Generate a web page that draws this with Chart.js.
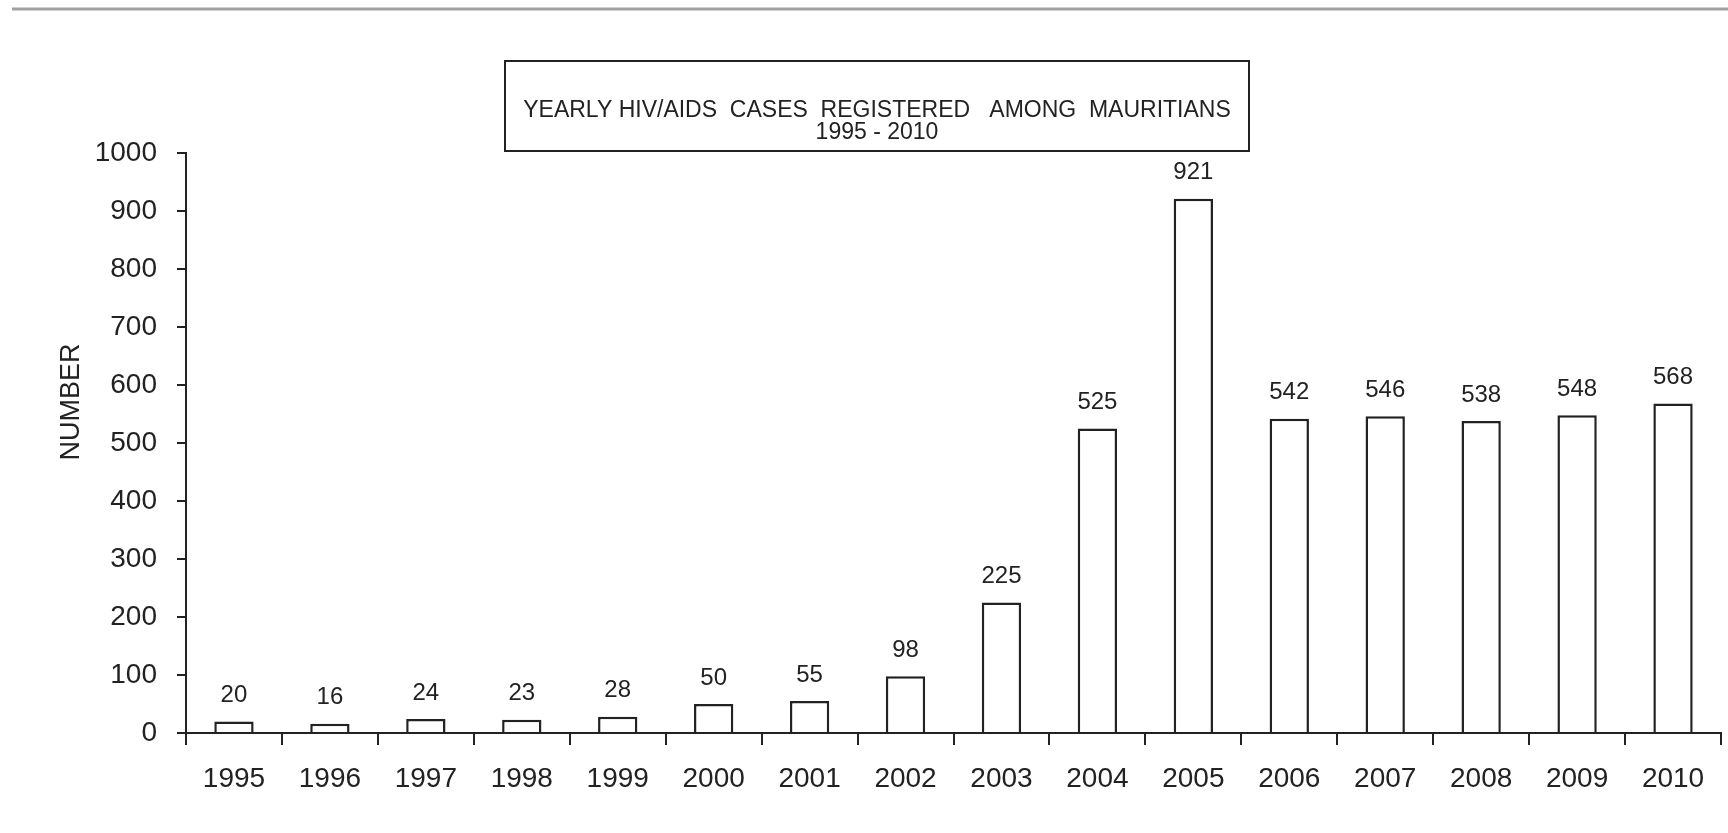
<!DOCTYPE html>
<html>
<head>
<meta charset="utf-8">
<script src="https://cdn.jsdelivr.net/npm/chart.js@4"></script>
<style>
  html, body { margin: 0; padding: 0; background: #fff; }
  #wrap { width: 1728px; height: 833px; }
</style>
</head>
<body>
<div id="wrap"><canvas id="hivChart" width="1728" height="833"></canvas></div>
<script>
// chart data
const years = ['1995', '1996', '1997', '1998', '1999', '2000', '2001', '2002',
               '2003', '2004', '2005', '2006', '2007', '2008', '2009', '2010'];
const cases = [20, 16, 24, 23, 28, 50, 55, 98, 225, 525, 921, 542, 546, 538, 548, 568];
const yTicks = [0, 100, 200, 300, 400, 500, 600, 700, 800, 900, 1000];
const titleLines = ['YEARLY HIV/AIDS  CASES  REGISTERED   AMONG  MAURITIANS', '1995 - 2010'];

const FONT = "'Liberation Sans', Arial, sans-serif";
const TEXT = '#222';

// draws the grey rule, the boxed title, the axis title and the value labels
const decorations = {
    id: 'decorations',
    beforeDraw(chart) {
        const c = chart.ctx;
        c.save();
        c.fillStyle = '#fff';
        c.fillRect(0, 0, chart.width, chart.height);
        c.strokeStyle = '#a0a0a0';
        c.lineWidth = 3;
        c.beginPath();
        c.moveTo(12, 9);
        c.lineTo(chart.width, 9);
        c.stroke();
        c.restore();
    },
    afterDraw(chart) {
        const c = chart.ctx;
        c.save();
        // title box
        c.strokeStyle = '#222';
        c.lineWidth = 2;
        c.strokeRect(505, 61, 744, 90);
        c.fillStyle = TEXT;
        c.textAlign = 'center';
        c.textBaseline = 'middle';
        c.font = '23px ' + FONT;
        c.fillText(titleLines[0], 877, 111);
        c.fillText(titleLines[1], 877, 133);

        // y axis title
        c.save();
        c.translate(72, 402);
        c.rotate(-Math.PI / 2);
        c.font = '27px ' + FONT;
        c.fillText('NUMBER', 0, 0);
        c.restore();

        // value labels
        const meta = chart.getDatasetMeta(0);
        c.font = '24px ' + FONT;
        c.textBaseline = 'bottom';
        meta.data.forEach(function (bar, i) {
            c.fillText(String(cases[i]), bar.x, bar.y - 14);
        });
        c.restore();
    }
};

const config = {
    type: 'bar',
    data: {
        labels: years,
        datasets: [{
            data: cases,
            backgroundColor: '#fff',
            borderColor: '#222',
            borderWidth: 2.5,
            barPercentage: 0.41,
            categoryPercentage: 1
        }]
    },
    plugins: [decorations],
    options: {
        responsive: false,
        animation: false,
        layout: { padding: { top: 153, right: 7, left: 0, bottom: 0 } },
        plugins: {
            legend: { display: false },
            tooltip: { enabled: false },
            title: { display: false }
        },
        scales: {
            x: {
                offset: true,
                grid: {
                    offset: true,
                    drawOnChartArea: false,
                    color: '#222',
                    lineWidth: 2,
                    tickLength: 12
                },
                border: { color: '#222', width: 2 },
                ticks: {
                    color: TEXT,
                    padding: 17,
                    maxRotation: 0,
                    font: { family: FONT, size: 28 }
                },
                afterFit(scale) { scale.height = 100; }
            },
            y: {
                min: 0,
                max: 1000,
                afterBuildTicks(scale) {
                    scale.ticks = yTicks.map(function (v) { return { value: v }; });
                },
                grid: {
                    drawOnChartArea: false,
                    color: '#222',
                    lineWidth: 2,
                    tickLength: 9
                },
                border: { color: '#222', width: 2 },
                ticks: {
                    color: TEXT,
                    padding: 20,
                    font: { family: FONT, size: 28 },
                    callback(value) { return String(value); }
                },
                afterFit(scale) { scale.width = 186; }
            }
        }
    }
};

const hivChart = new Chart(document.getElementById('hivChart'), config);
</script>
</body>
</html>
